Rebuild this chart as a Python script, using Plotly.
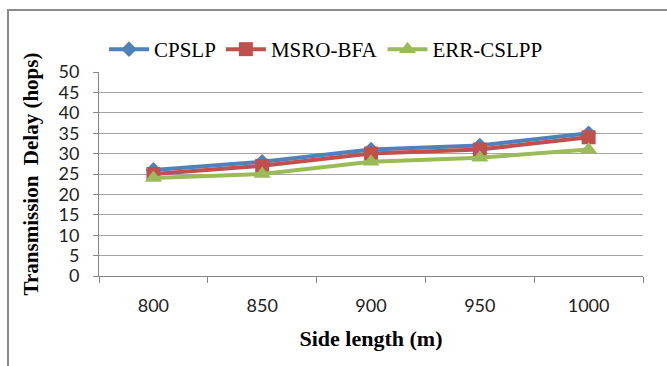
import plotly.graph_objects as go

categories = ["800", "850", "900", "950", "1000"]
cpslp = [26, 28, 31, 32, 35]
msro_bfa = [25, 27, 30, 31, 34]
err_cslpp = [24, 25, 28, 29, 31]

series = [
    ("CPSLP", cpslp, "#4F81BD", "diamond", 12),
    ("MSRO-BFA", msro_bfa, "#C0504D", "square", 14),
    ("ERR-CSLPP", err_cslpp, "#9BBB59", "triangle-up", 15),
]

fig = go.Figure()
for name, vals, color, sym, size in series:
    fig.add_trace(go.Scatter(
        x=categories, y=vals, name=name, mode="lines+markers",
        line=dict(color=color, width=4),
        marker=dict(symbol=sym, size=size, color=color),
    ))

L, R, T, B = 99, 24, 72, 90
W, H = 667, 366
pw, ph = W - L - R, H - T - B

fig.update_layout(
    width=W, height=H,
    margin=dict(l=L, r=R, t=T, b=B),
    paper_bgcolor="white", plot_bgcolor="white",
    showlegend=True,
    legend=dict(
        orientation="h", x=(104 - L) / pw, y=1 + (T - 29) / ph,
        xanchor="left", yanchor="top",
        font=dict(family="Liberation Serif", size=21, color="black"),
        itemwidth=40, tracegroupgap=0,
        bgcolor="rgba(0,0,0,0)",
    ),
    xaxis=dict(
        type="category", range=[-0.5, 4.5],
        tickson="boundaries", ticks="outside", ticklen=6, tickcolor="#868686",
        showline=True, linecolor="#868686", linewidth=1,
        showgrid=False, ticklabelstandoff=13,
        tickfont=dict(family="Lato", size=18, color="#222"),
        title=dict(text="<b>Side length (m)</b>",
                   font=dict(family="Liberation Serif", size=22, color="black"),
                   standoff=16),
    ),
    yaxis=dict(
        range=[0, 50], dtick=5, ticks="outside", ticklen=5, tickcolor="#868686",
        showline=True, linecolor="#868686", linewidth=1,
        showgrid=True, gridcolor="#a6a6a6", gridwidth=1,
        zeroline=False, ticklabelstandoff=10,
        tickfont=dict(family="Lato", size=18, color="#222"),
        title=dict(text="<b>Transmission  Delay (hops)</b>",
                   font=dict(family="Liberation Serif", size=21, color="black"),
                   standoff=14),
    ),
)

# outer frame (top and left visible)
fig.add_shape(type="rect", xref="paper", yref="paper",
              x0=(8 - L) / pw, x1=(W + 20 - L) / pw,
              y0=1 - (H + 20 - T) / ph, y1=1 + (T - 10) / ph,
              line=dict(color="#8a8a8a", width=2), layer="below")

fig.write_html("out.html")
